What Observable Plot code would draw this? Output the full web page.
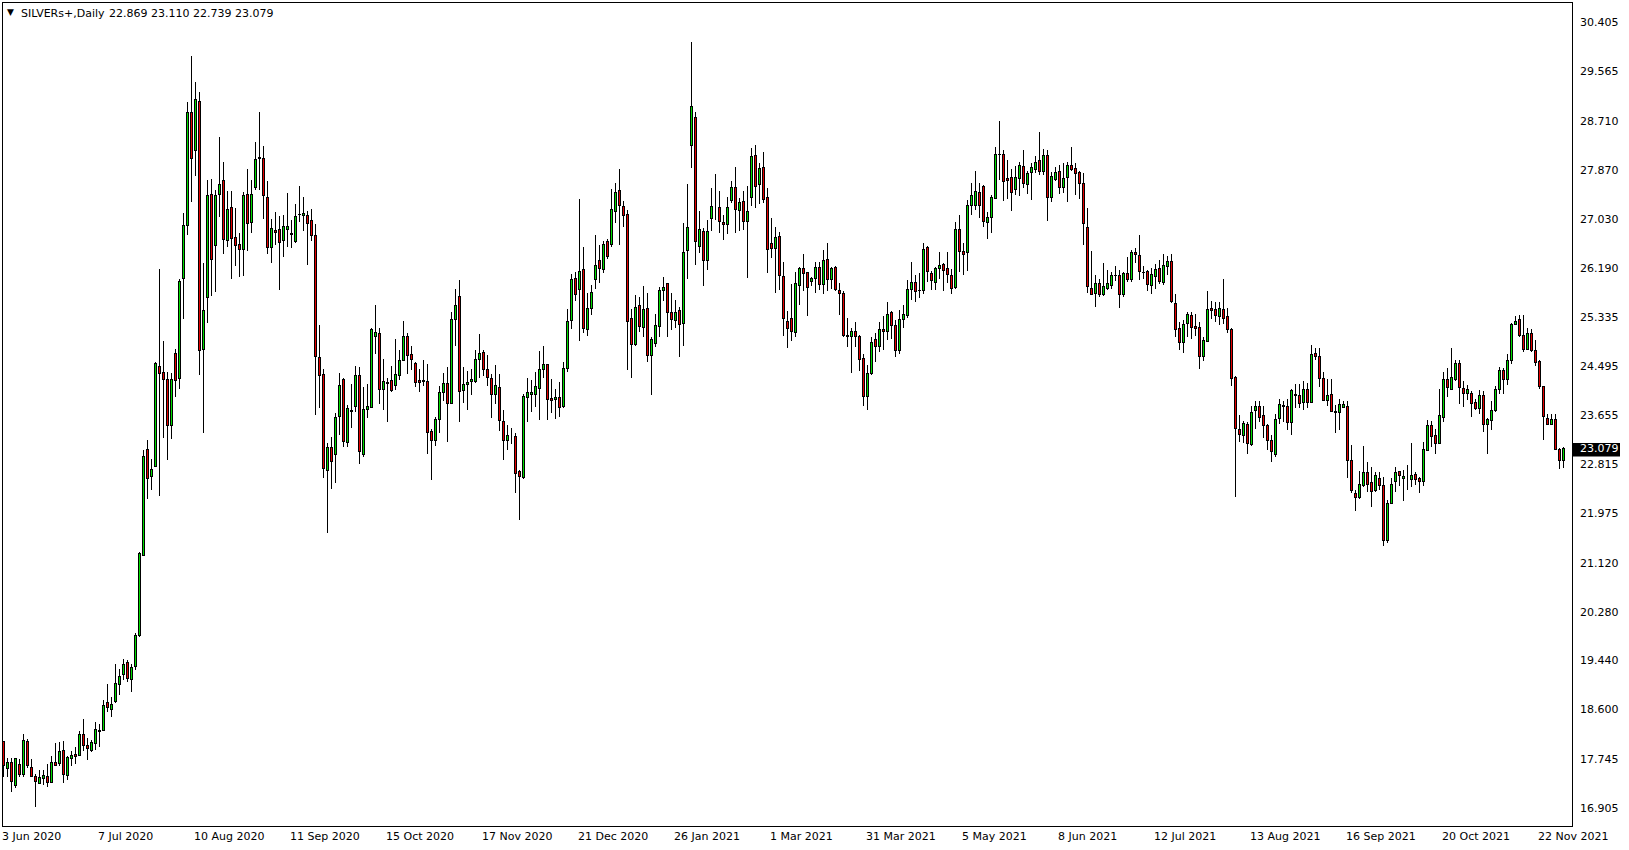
<!DOCTYPE html>
<html><head><meta charset="utf-8">
<script src="https://cdn.jsdelivr.net/npm/d3@7"></script>
<script src="https://cdn.jsdelivr.net/npm/@observablehq/plot@0.6"></script>
<style>
html,body{margin:0;padding:0;background:#fff;overflow:hidden}
#chart{position:relative;width:1629px;height:850px}
</style></head><body><div id="chart"></div>
<script>
const symbolLabel = "SILVERs+,Daily";
const lastQuote = "22.869 23.110 22.739 23.079";

const open = [
18.04,17.59,17.69,17.29,17.66,17.48,18.04,17.60,17.45,17.33,
17.41,17.45,17.34,17.68,17.67,17.90,17.46,17.75,17.83,17.81,
18.16,17.97,17.89,18.02,18.22,18.23,18.71,18.59,18.73,19.03,
19.20,19.41,19.11,19.33,19.87,21.25,23.06,22.60,22.78,24.49,
24.39,24.27,23.48,24.71,24.29,26.00,26.92,28.85,28.21,29.05,
24.79,25.67,27.45,26.57,27.45,27.69,26.65,27.22,26.71,26.58,
26.50,27.45,26.97,27.56,28.08,28.06,27.40,26.53,26.82,26.85,
26.65,26.85,26.77,26.64,27.10,27.08,27.09,27.00,26.74,24.65,
24.36,22.71,23.10,22.98,23.63,24.27,23.19,23.73,23.80,24.33,
22.97,23.75,23.79,25.00,25.06,24.10,24.21,24.25,24.16,24.33,
24.60,25.01,24.69,24.55,24.25,24.24,24.24,23.38,23.22,23.58,
24.05,24.19,23.86,25.30,25.70,24.07,24.18,24.23,24.23,24.61,
24.73,24.44,24.29,24.01,24.13,23.55,23.22,23.30,23.28,22.68,
22.59,23.96,24.01,24.01,24.11,24.44,24.53,23.94,23.93,23.96,
23.80,24.46,25.28,26.01,25.82,26.15,25.13,25.49,25.98,26.32,
26.16,26.63,26.59,27.16,27.51,27.24,27.11,25.32,24.87,25.53,
25.16,25.49,24.68,24.89,25.17,25.80,25.91,25.42,25.28,25.45,
25.23,26.48,28.29,28.77,26.56,26.81,26.32,27.03,27.22,27.22,
26.97,26.93,27.34,27.56,27.17,27.33,26.99,27.40,28.12,27.61,
27.91,27.40,26.60,26.52,26.73,26.04,25.27,25.31,25.07,25.89,
26.18,26.10,25.95,26.00,26.19,25.90,26.33,25.99,26.19,25.80,
25.75,25.03,25.00,25.10,25.01,24.63,23.97,24.37,24.95,24.83,
25.13,25.10,25.42,25.20,24.77,25.29,25.36,25.82,25.94,25.79,
25.80,26.53,26.09,25.94,26.17,26.24,26.18,26.06,25.84,26.85,
26.46,26.45,27.26,27.26,27.48,27.59,26.97,27.05,27.38,28.13,
28.14,27.72,27.73,27.53,27.72,27.93,27.62,27.83,27.87,28.03,
27.84,28.12,27.39,27.71,27.84,27.57,27.74,27.95,27.89,27.82,
27.63,26.88,25.83,25.74,25.91,25.73,25.83,25.89,26.05,26.06,
25.73,26.09,25.99,26.45,26.39,26.11,26.12,25.88,26.03,26.17,
25.93,26.21,26.30,25.58,25.15,24.91,25.23,25.36,25.17,25.16,
24.66,24.92,25.49,25.47,25.35,25.47,25.35,25.12,24.30,23.40,
23.31,23.50,23.15,23.73,23.81,23.64,23.48,23.22,22.98,23.60,
23.81,23.81,23.52,24.00,24.00,23.87,24.10,23.87,24.72,24.67,
24.29,23.90,24.01,23.71,23.70,23.79,23.81,22.88,22.31,22.24,
22.44,22.67,22.49,22.36,22.57,22.44,21.50,22.14,22.51,22.68,
22.57,22.57,22.55,22.64,22.56,22.51,23.04,23.48,23.31,23.16,
23.62,24.26,24.10,24.26,24.54,24.11,24.03,24.03,23.87,23.76,
24.00,23.50,23.57,23.74,24.10,24.43,24.26,24.59,25.22,25.29,
25.02,24.79,25.05,24.77,24.58,24.15,23.60,23.50,23.58,23.07,
22.869];

const high = [
18.06,17.76,17.76,17.77,17.75,18.18,18.09,17.75,17.49,17.56,
17.56,17.66,17.79,18.02,18.04,18.06,17.80,17.88,17.96,18.23,
18.43,18.11,18.07,18.39,18.34,18.76,19.03,18.82,19.37,19.30,
19.46,19.45,19.37,19.91,21.30,23.06,23.23,22.90,24.57,26.17,
24.93,24.39,24.37,24.79,26.00,27.12,29.03,29.82,29.38,29.21,
26.27,27.69,27.71,27.53,28.44,28.00,27.50,27.51,27.22,26.79,
27.48,27.89,27.69,28.34,28.87,28.28,27.68,27.02,27.15,27.08,
27.09,27.47,27.01,27.28,27.59,27.41,27.16,27.20,26.93,25.20,
24.44,23.17,23.28,23.69,24.37,24.30,23.83,24.19,24.50,24.49,
24.13,24.19,25.15,25.55,25.16,24.62,24.29,24.50,24.96,24.77,
25.27,25.07,24.84,24.57,24.44,24.60,24.54,23.41,23.63,24.15,
24.37,24.48,25.42,25.82,25.98,24.48,24.41,24.45,24.78,25.05,
24.78,24.69,24.36,24.52,24.36,23.75,23.49,23.44,23.35,22.71,
24.02,24.30,24.26,24.40,24.76,24.84,24.54,24.28,24.11,24.22,
24.56,25.48,26.08,26.12,27.37,26.54,25.76,25.89,26.75,26.58,
26.65,26.68,27.54,27.65,27.89,27.33,27.18,25.48,25.72,25.69,
25.87,25.76,25.00,25.39,25.86,26.03,25.92,25.75,25.63,25.51,
26.95,27.62,30.07,28.86,27.17,26.87,27.01,27.56,27.79,27.50,
27.10,27.41,27.67,27.92,27.38,27.50,27.59,28.24,28.29,27.99,
28.18,27.55,27.05,26.88,26.80,26.28,25.45,25.91,26.11,26.20,
26.43,26.12,26.02,26.28,26.28,26.49,26.61,26.20,26.22,25.93,
25.78,25.33,25.15,25.26,25.03,24.71,24.51,24.99,25.06,25.26,
25.35,25.59,25.45,25.29,25.46,25.55,25.98,26.28,26.07,26.09,
26.61,26.56,26.13,26.20,26.45,26.27,26.46,26.16,26.97,27.09,
26.61,27.35,27.64,27.85,27.65,27.61,27.15,27.44,28.26,28.71,
28.21,28.04,27.89,27.94,28.01,28.21,27.85,27.98,28.10,28.52,
28.22,28.21,27.83,27.91,27.95,27.98,28.00,28.27,27.98,27.85,
27.81,27.21,26.48,26.06,26.00,26.27,26.15,26.12,26.21,26.15,
26.12,26.38,26.49,26.52,26.75,26.21,26.15,26.18,26.25,26.32,
26.42,26.39,26.42,25.74,25.25,25.29,25.42,25.43,25.40,25.26,
25.00,25.79,25.62,25.60,25.59,25.99,25.49,25.15,24.33,23.66,
23.56,23.54,23.81,23.89,23.90,23.81,23.51,23.31,23.67,23.93,
23.89,23.94,24.10,24.19,24.19,24.24,24.20,24.86,24.80,24.80,
24.39,24.27,24.27,23.83,23.94,23.90,23.89,23.14,22.36,22.70,
23.12,22.85,22.77,22.68,22.67,22.60,22.19,22.57,22.76,22.69,
22.72,22.80,23.17,22.68,22.60,23.20,23.57,23.56,23.41,24.10,
24.39,24.46,24.80,24.60,24.61,24.24,24.17,24.07,23.94,24.09,
24.07,23.60,23.89,24.15,24.49,24.46,24.70,25.24,25.36,25.37,
25.37,25.15,25.13,24.94,24.61,24.15,23.68,23.68,23.68,23.09,
23.110];

const low = [
17.43,17.43,17.18,17.25,17.43,17.44,17.59,17.43,16.93,17.31,
17.30,17.26,17.34,17.63,17.63,17.34,17.38,17.63,17.66,17.79,
17.88,17.73,17.87,17.90,17.96,18.22,18.56,18.46,18.70,18.85,
19.10,19.07,18.89,19.28,19.84,21.23,22.21,22.36,22.77,22.26,
23.27,22.88,23.24,23.97,24.10,25.31,26.75,27.32,27.76,24.34,
23.34,25.23,25.71,25.77,27.06,26.42,26.55,26.00,26.22,26.02,
26.05,26.47,26.79,27.52,27.52,27.03,26.42,26.27,26.58,25.81,
26.38,26.54,26.53,26.62,26.97,26.82,26.24,26.65,23.66,23.78,
22.57,21.63,22.38,22.48,23.32,23.10,23.10,23.44,23.71,22.81,
22.93,23.60,23.77,24.70,23.85,23.74,23.54,24.06,24.08,24.26,
24.59,24.36,24.43,24.13,24.05,24.16,22.99,22.54,23.13,23.35,
23.89,23.20,23.85,24.84,23.54,23.87,23.75,24.00,24.20,24.30,
24.33,24.16,23.61,23.84,23.39,22.88,23.05,23.16,22.32,21.86,
22.56,23.53,23.71,23.80,23.57,24.29,23.57,23.69,23.58,23.63,
23.77,24.40,25.13,25.62,24.93,25.06,25.02,25.38,25.83,25.92,
26.10,26.33,26.54,26.95,26.57,26.88,24.43,24.30,24.85,25.08,
25.00,24.56,24.00,24.83,25.00,25.61,24.99,25.12,25.16,24.66,
24.84,26.00,27.90,26.24,26.44,25.87,26.15,26.81,27.01,26.78,
26.67,26.76,27.30,26.78,26.81,26.84,26.01,27.24,27.21,27.29,
27.30,26.10,26.35,25.75,25.80,25.02,24.80,24.92,25.00,25.55,
25.79,25.35,25.88,25.76,25.80,25.73,25.79,25.82,25.79,25.37,
25.00,24.83,24.38,24.83,24.42,23.82,23.74,24.34,24.57,24.74,
24.77,24.95,24.96,24.66,24.71,25.16,25.33,25.63,25.60,25.66,
25.74,25.95,25.80,25.80,25.99,25.79,25.92,25.73,25.83,26.12,
26.06,26.13,27.09,27.18,27.04,26.89,26.68,26.78,27.37,27.69,
27.33,27.36,27.17,27.44,27.42,27.56,27.45,27.35,27.81,27.78,
27.78,26.99,27.31,27.67,27.45,27.47,27.32,27.85,27.44,27.36,
26.57,25.75,25.72,25.52,25.69,25.71,25.80,25.83,25.96,25.49,
25.68,25.95,25.95,26.26,25.98,25.99,25.78,25.74,25.83,25.91,
25.89,26.06,25.58,25.00,24.78,24.73,24.99,24.97,25.01,24.45,
24.59,24.91,25.31,25.26,25.20,25.22,25.06,24.16,22.25,23.20,
23.18,22.98,23.13,23.41,23.54,23.27,23.06,22.85,22.94,23.51,
23.54,23.40,23.32,23.77,23.77,23.74,23.77,23.86,24.61,24.13,
23.89,23.82,23.70,23.35,23.40,23.77,22.58,22.31,22.01,22.21,
22.42,22.34,22.08,22.34,22.37,21.41,21.45,22.13,22.34,22.44,
22.18,22.36,22.42,22.46,22.31,22.44,23.03,23.11,22.99,23.15,
23.54,23.96,24.09,24.24,23.85,23.79,23.91,23.63,23.74,23.68,
23.37,22.99,23.40,23.71,24.02,24.02,24.17,24.53,25.20,25.00,
24.74,24.77,24.74,24.50,24.10,23.23,23.50,23.48,23.05,22.73,
22.739];

const close = [
17.64,17.69,17.36,17.75,17.48,18.07,17.64,17.44,17.36,17.42,
17.47,17.34,17.68,17.64,17.87,17.48,17.77,17.81,17.79,18.16,
17.98,17.92,18.03,18.26,18.23,18.67,18.63,18.69,19.05,19.17,
19.37,19.13,19.32,19.86,21.28,22.94,22.57,22.72,24.55,24.37,
24.27,23.48,24.27,24.25,25.95,26.92,28.85,28.07,29.07,24.77,
25.45,27.43,26.33,27.42,27.62,26.67,27.19,26.69,26.57,26.50,
27.43,26.95,27.45,28.05,28.06,27.42,26.53,26.86,26.80,26.62,
26.89,26.89,26.76,27.07,27.11,27.12,26.94,26.74,24.66,24.33,
22.74,23.10,22.86,23.62,24.16,23.20,23.77,23.72,24.33,23.03,
23.75,23.81,25.13,25.08,24.10,24.24,24.20,24.08,24.36,24.60,
25.01,24.68,24.61,24.21,24.22,24.25,23.35,23.22,23.58,24.05,
24.20,23.86,25.30,25.54,24.06,24.18,24.22,24.26,24.61,24.72,
24.44,24.30,24.01,24.16,23.56,23.22,23.31,23.30,22.65,22.60,
23.97,24.04,24.05,24.14,24.44,24.52,23.93,23.91,23.95,23.79,
24.46,25.27,25.99,25.73,26.13,25.14,25.49,25.76,26.22,26.18,
26.58,26.38,27.18,27.48,27.25,27.08,25.26,24.87,25.51,25.17,
25.47,24.68,24.95,25.19,25.79,25.84,25.42,25.29,25.42,25.22,
26.45,26.87,28.96,26.64,26.84,26.31,26.81,27.24,27.22,26.98,
26.93,27.22,27.56,27.18,27.31,26.98,27.16,28.10,27.58,27.89,
27.36,26.50,26.52,26.71,26.05,25.31,25.15,25.09,25.91,26.18,
26.09,25.85,26.00,26.19,25.90,26.31,25.99,26.18,25.81,25.75,
25.02,25.00,25.10,25.00,24.61,23.97,24.37,24.91,24.84,25.13,
25.09,25.39,25.20,24.77,25.30,25.39,25.82,25.94,25.78,25.80,
26.50,26.12,25.96,26.18,26.23,26.14,26.07,25.83,26.84,26.46,
26.42,27.25,27.42,27.49,27.26,26.98,27.05,27.40,28.14,28.14,
27.67,27.68,27.48,27.74,27.95,27.64,27.81,27.91,28.00,27.84,
28.11,27.39,27.75,27.83,27.57,27.72,27.95,27.88,27.81,27.63,
26.95,25.86,25.73,25.92,25.73,25.86,25.91,26.05,26.06,25.73,
26.09,25.99,26.45,26.42,26.12,26.10,25.90,26.07,26.15,25.95,
26.22,26.30,25.60,25.13,24.91,25.21,25.39,25.16,25.15,24.66,
24.93,25.47,25.45,25.36,25.49,25.31,25.13,24.29,23.43,23.33,
23.51,23.16,23.70,23.81,23.62,23.48,23.22,23.03,23.58,23.83,
23.82,23.52,24.07,24.01,23.86,24.10,23.87,24.69,24.66,24.29,
23.90,24.00,23.71,23.70,23.83,23.83,22.87,22.36,22.24,22.47,
22.67,22.47,22.34,22.61,22.44,21.50,22.14,22.47,22.67,22.61,
22.60,22.57,22.62,22.55,22.52,23.07,23.48,23.28,23.16,23.64,
24.26,24.13,24.30,24.54,24.13,24.03,24.09,23.86,23.76,24.00,
23.50,23.58,23.74,24.10,24.42,24.26,24.59,25.22,25.27,25.02,
24.79,25.05,24.77,24.56,24.14,23.63,23.50,23.58,23.07,22.88,
23.079];

const dateLabels = ["3 Jun 2020","7 Jul 2020","10 Aug 2020","11 Sep 2020","15 Oct 2020",
  "17 Nov 2020","21 Dec 2020","26 Jan 2021","1 Mar 2021","31 Mar 2021","5 May 2021",
  "8 Jun 2021","12 Jul 2021","13 Aug 2021","16 Sep 2021","20 Oct 2021","22 Nov 2021"];
const barsPerLabel = 24;
const priceTicks = [30.405,29.565,28.710,27.870,27.030,26.190,25.335,24.495,23.655,
  22.815,21.975,21.120,20.280,19.440,18.600,17.745,16.905];

const bars = open.map((o, i) => ({i, o, h: high[i], l: low[i], c: close[i]}));
const upBars = bars.filter(d => d.c >= d.o);
const downBars = bars.filter(d => d.c < d.o);
const dateTicks = dateLabels.map((_, k) => k * barsPerLabel);

const UP = "#00dc00", DOWN = "#e40000";
const font = "DejaVu Sans";

const bodyOpts = (fill) => ({
  x1: d => d.i - 0.25, x2: d => d.i + 0.25, y1: "o", y2: "c",
  fill, stroke: "black", strokeWidth: 1, shapeRendering: "crispEdges"
});

const plot = Plot.plot({
  width: 1629, height: 850,
  marginLeft: 2, marginRight: 57, marginTop: 2, marginBottom: 24,
  style: {fontFamily: font, fontSize: "11px", color: "black", background: "white", overflow: "visible"},
  x: {type: "linear", domain: [-0.25, 392.25], axis: null, label: null},
  y: {type: "linear", domain: [16.595, 30.753], axis: null, label: null},
  marks: [
    Plot.ruleX(bars, {x: "i", y1: "l", y2: "h", stroke: "black", strokeWidth: 1, shapeRendering: "crispEdges"}),
    Plot.rect(upBars, bodyOpts(UP)),
    Plot.rect(downBars, bodyOpts(DOWN)),
    Plot.frame({stroke: "black", strokeWidth: 1}),
    Plot.axisY(priceTicks, {anchor: "right", label: null, tickSize: 0, tickPadding: 7.5, tickFormat: d => d.toFixed(3), fontSize: 11, fill: "black"}),
    Plot.axisX(dateTicks, {anchor: "bottom", label: null, tickSize: 0, tickPadding: 6, tickFormat: i => dateLabels[i / barsPerLabel], textAnchor: "start", dx: -1.5, fontSize: 11, fill: "black"}),
    Plot.text(["▼"], {text: d => d, frameAnchor: "top-left", dx: 4.5, dy: 10, lineAnchor: "middle", textAnchor: "start", fontSize: 9, fill: "black"}),
    Plot.text([symbolLabel], {text: d => d, frameAnchor: "top-left", dx: 18.5, dy: 10.5, lineAnchor: "middle", textAnchor: "start", fontSize: 11, fill: "black"}),
    Plot.text([lastQuote], {text: d => d, frameAnchor: "top-left", dx: 106.5, dy: 10.5, lineAnchor: "middle", textAnchor: "start", fontSize: 11, fill: "black"})
  ]
});
document.getElementById("chart").appendChild(plot);

// current price tag on the price scale
const ys = plot.scale("y");
const last = close[close.length - 1];
const yy = ys.apply(last);
const svg = d3.select(plot);
svg.append("rect").attr("x", 1573).attr("y", Math.round(yy - 6)).attr("width", 47).attr("height", 13.5).attr("fill", "black");
svg.append("text").attr("x", 1580).attr("y", yy).attr("dy", "0.35em").attr("text-anchor", "start")
  .attr("fill", "white").attr("font-family", font).attr("font-size", 11).text(last.toFixed(3));
</script></body></html>
